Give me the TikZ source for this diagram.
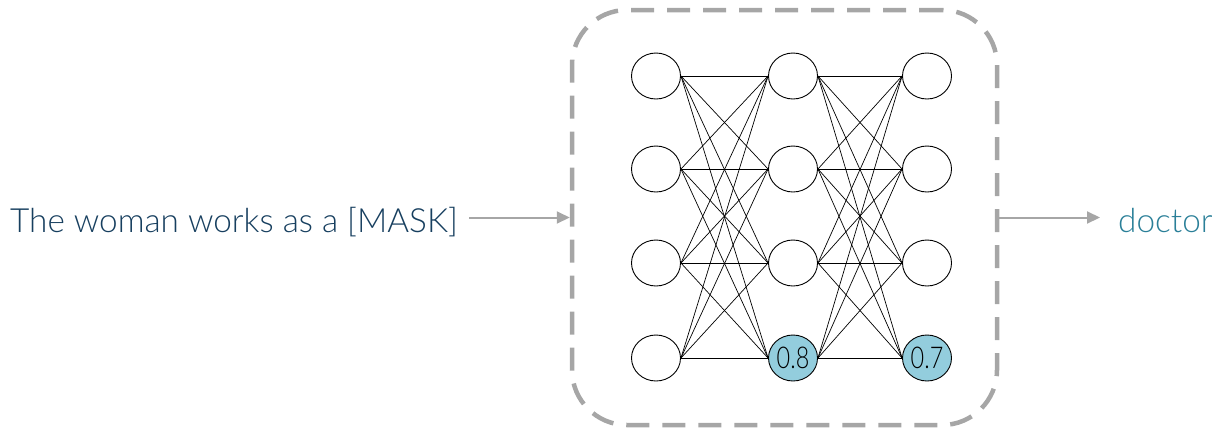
\documentclass[tikz,border=0pt]{standalone}
\usepackage{fontspec}
\setmainfont{Lato}[UprightFont=* Light]
\usetikzlibrary{shapes.geometric,arrows.meta,backgrounds}
\definecolor{inkblue}{HTML}{173F5F}
\definecolor{tealout}{HTML}{2A7F98}
\definecolor{boxgray}{HTML}{A6A6A6}
\definecolor{hotcell}{HTML}{93CDDD}
\begin{document}
\begin{tikzpicture}[x=1pt,y=-1pt,
  neuron/.style={ellipse,draw=black,line width=0.9pt,fill=white,
    minimum width=49pt,minimum height=46pt,inner sep=0pt},
  hot/.style={neuron,fill=hotcell,font=\fontsize{30}{30}\selectfont},
  link/.style={draw=black,line width=0.7pt},
  flow/.style={draw=boxgray,line width=2pt,-{Triangle[length=13pt,width=12pt]}},
  frame/.style={draw=boxgray,line width=4.5pt,dash pattern=on 23pt off 13pt,
    rounded corners=55pt,minimum width=425pt,minimum height=415pt,inner sep=0pt},
  words/.style={anchor=base west,inner sep=0pt,font=\fontsize{33.3}{34}\selectfont}]
\useasboundingbox (0,0) rectangle (1212,432);

% the network's enclosing frame
\node[frame] (box) at (784.5,217.5) {};

% three layers of four units
\foreach \c/\x in {a/656,b/793,c/927}{
  \foreach \r/\y in {1/76,2/169,3/263}{
    \node[neuron] (\c\r) at (\x,\y) {};
  }
}
\node[neuron] (a4) at (656,358) {};
\node[hot] (b4) at (793,358) {\scalebox{0.78}[1]{0.8}};
\node[hot] (c4) at (927,358) {\scalebox{0.78}[1]{0.7}};

% full connections between neighbouring layers, kept behind the units
\begin{pgfonlayer}{background}
\foreach \i in {1,...,4}{
  \foreach \j in {1,...,4}{
    \draw[link] (a\i.east) -- (b\j.west);
    \draw[link] (b\i.east) -- (c\j.west);
  }
}
\end{pgfonlayer}

% input sentence and prediction
\node[words,text=inkblue] (input) at (10,232) {The woman works as a [MASK]};
\node[words,text=tealout] (output) at (1118,232) {doctor};

\draw[flow] ([xshift=11pt]input.east |- box.west) -- (box.west);
\draw[flow] (box.east) -- ([xshift=-18pt]output.west |- box.east);
\end{tikzpicture}
\end{document}
